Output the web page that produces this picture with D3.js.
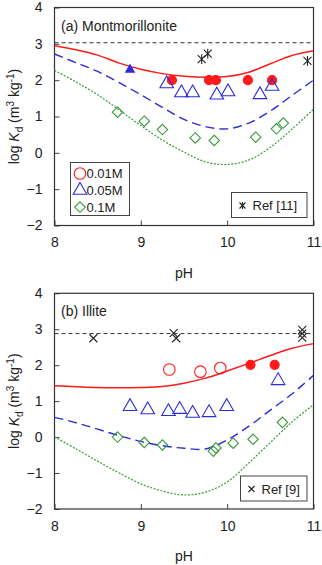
<!doctype html>
<html lang="en">
<head>
  <meta charset="utf-8">
  <title>log Kd vs pH</title>
  <style>
    body { margin: 0; background: #fff; }
    svg text { font-family: "Liberation Sans", Arial, sans-serif; fill: #222; }
  </style>
</head>
<body>
  <script src="https://cdn.jsdelivr.net/npm/d3@7"></script>
  <svg width="322" height="565"></svg>
  <script>
    // axis ticks
    var phTicks = [8, 9, 10, 11];
    var logTicks = [-2, -1, 0, 1, 2, 3, 4];

    // model curves, sampled every 0.25 pH
    var curvePH = [8, 8.25, 8.5, 8.75, 9, 9.25, 9.5, 9.75, 10, 10.25, 10.5, 10.75, 11];
    var montRed   = [2.95, 2.84, 2.69, 2.47, 2.30, 2.18, 2.11, 2.08, 2.10, 2.22, 2.45, 2.68, 2.81];
    var montBlue  = [2.72, 2.48, 2.24, 1.93, 1.60, 1.25, 0.92, 0.72, 0.66, 0.82, 1.15, 1.58, 2.00];
    var montGreen = [2.27, 1.95, 1.60, 1.18, 0.75, 0.35, 0.02, -0.25, -0.32, -0.20, 0.15, 0.65, 1.20];
    var illRed    = [1.43, 1.40, 1.38, 1.37, 1.38, 1.41, 1.50, 1.64, 1.84, 2.05, 2.27, 2.47, 2.60];
    var illBlue   = [0.55, 0.40, 0.22, 0.04, -0.12, -0.24, -0.31, -0.33, -0.08, 0.30, 0.75, 1.20, 1.72];
    var illGreen  = [0.01, -0.33, -0.67, -1.00, -1.30, -1.50, -1.61, -1.53, -1.25, -0.72, -0.15, 0.42, 0.90];

    // reference levels (black dashed)
    var montRefLevel = 3.03;
    var illRefLevel = 2.88;

    // measured points [pH, log Kd]
    var mont001Filled = [[9.36, 2.0], [9.79, 2.0], [9.87, 2.0], [10.24, 2.0], [10.52, 2.0]];
    var mont005Open = [[9.30, 1.90], [9.47, 1.65], [9.60, 1.65], [9.88, 1.59], [10.01, 1.68], [10.38, 1.60], [10.52, 1.83]];
    var mont005Filled = [[8.875, 2.29]];
    var mont01Open = [[8.73, 1.12], [9.04, 0.87], [9.25, 0.64], [9.63, 0.41], [9.85, 0.34], [10.33, 0.43], [10.57, 0.66], [10.65, 0.82]];
    var montRef11 = [[9.705, 2.58], [9.775, 2.73], [10.93, 2.53]];

    var ill001Open = [[9.33, 1.88], [9.69, 1.82], [9.92, 1.92]];
    var ill001Filled = [[10.27, 2.01], [10.55, 2.01]];
    var ill005Open = [[8.875, 0.85], [9.08, 0.76], [9.32, 0.71], [9.45, 0.77], [9.60, 0.66], [9.79, 0.68], [9.995, 0.85], [10.59, 1.57]];
    var ill01Open = [[8.73, 0.0], [9.04, -0.15], [9.25, -0.22], [9.84, -0.39], [9.87, -0.30], [10.07, -0.17], [10.30, -0.06], [10.64, 0.41]];
    var illRef9 = [[8.45, 2.75], [9.38, 2.89], [9.41, 2.75], [10.87, 2.98], [10.87, 2.88], [10.87, 2.77]];

    var RED = "#ff1a1a", BLUE = "#2b2bdc", GREEN = "#3a9a3a";

    var svg = d3.select("svg");
    var x = d3.scaleLinear().domain([8, 11]).range([54.5, 313.5]);

    function panel(top, bottom, title, curves, refLevel, marks, refPts, refSym, refLabel) {
      var y = d3.scaleLinear().domain([-2, 4]).range([bottom, top]);
      var g = svg.append("g");

      // axes with inward ticks
      var ax = g.append("g").attr("transform", "translate(0," + bottom + ")")
        .call(d3.axisBottom(x).tickValues(phTicks).tickFormat(d3.format("d"))
          .tickSizeInner(-5).tickSizeOuter(0).tickPadding(12));
      var ay = g.append("g").attr("transform", "translate(54.5,0)")
        .call(d3.axisLeft(y).tickValues(logTicks).tickFormat(d3.format("d"))
          .tickSizeInner(-5).tickSizeOuter(0).tickPadding(12));
      [ax, ay].forEach(a => {
        a.select(".domain").remove();
        a.selectAll("line").attr("stroke", "#444");
        a.selectAll("text").style("font-size", "14px").attr("fill", "#222");
      });

      g.append("rect").attr("x", x(8)).attr("y", top)
        .attr("width", x(11) - x(8)).attr("height", bottom - top)
        .attr("fill", "none").attr("stroke", "#333").attr("stroke-width", 1.2);

      // reference level
      g.append("line").attr("x1", x(8)).attr("x2", x(11))
        .attr("y1", y(refLevel)).attr("y2", y(refLevel))
        .attr("stroke", "#333").attr("stroke-width", 1).attr("stroke-dasharray", "4,3");

      // model curves
      var line = d3.line().x((d, i) => x(curvePH[i])).y(d => y(d)).curve(d3.curveCatmullRom);
      curves.forEach(c => {
        g.append("path").datum(c.values).attr("d", line)
          .attr("fill", "none").attr("stroke", c.color).attr("stroke-width", c.width)
          .attr("stroke-dasharray", c.dash);
      });

      // points
      marks.forEach(m => {
        g.selectAll(null).data(m.data).enter().append("path")
          .attr("transform", d => "translate(" + x(d[0]) + "," + y(d[1]) + ")")
          .attr("d", d3.symbol().type(m.type).size(m.size))
          .attr("fill", m.filled ? m.color : "none")
          .attr("stroke", m.color).attr("stroke-width", 1.1);
      });

      // reference points
      g.selectAll(null).data(refPts).enter().append("path")
        .attr("transform", d => "translate(" + x(d[0]) + "," + y(d[1]) + ")")
        .attr("d", refSym(4))
        .attr("fill", "none").attr("stroke", "#222").attr("stroke-width", 1.1);

      // title
      g.append("text").attr("x", 61).attr("y", top + 23).style("font-size", "14px").text(title);

      // y label
      var lab = g.append("text")
        .attr("transform", "translate(19," + ((top + bottom) / 2) + ") rotate(-90)")
        .attr("text-anchor", "middle").style("font-size", "14px");
      lab.append("tspan").text("log ");
      lab.append("tspan").style("font-style", "italic").text("K");
      lab.append("tspan").attr("dy", 4).style("font-size", "10px").text("d");
      lab.append("tspan").attr("dy", -4).text("  (m");
      lab.append("tspan").attr("dy", -5).style("font-size", "10px").text("3");
      lab.append("tspan").attr("dy", 5).text(" kg");
      lab.append("tspan").attr("dy", -5).style("font-size", "10px").text("-1");
      lab.append("tspan").attr("dy", 5).text(")");

      // x label
      g.append("text").attr("x", 184).attr("y", bottom + 52)
        .attr("text-anchor", "middle").style("font-size", "14px").text("pH");

      // reference legend
      var lx0 = refLabel.length > 7 ? 231.5 : 240.5;
      var lb = g.append("g");
      lb.append("rect").attr("x", lx0).attr("y", bottom - 33).attr("width", 307 - lx0).attr("height", 25)
        .attr("fill", "#fff").attr("stroke", "#444").attr("stroke-width", 1);
      lb.append("path").attr("transform", "translate(" + (lx0 + 11) + "," + (bottom - 20) + ")")
        .attr("d", refSym(3)).attr("stroke", "#222").attr("stroke-width", 1.1);
      lb.append("text").attr("x", lx0 + 21).attr("y", bottom - 15.5).style("font-size", "13px").text(refLabel);

      return y;
    }

    function starSym(r) {
      return "M" + (-r) + "," + (-r) + "L" + r + "," + r + "M" + (-r) + "," + r + "L" + r + "," + (-r) +
        "M0," + (-r * 1.2) + "L0," + (r * 1.2);
    }
    function crossSym(r) {
      return "M" + (-r) + "," + (-r) + "L" + r + "," + r + "M" + (-r) + "," + r + "L" + r + "," + (-r);
    }

    var TRI = 80, DIA = 70, CIRC_O = 105, CIRC_F = 65;

    // (a) Montmorillonite
    panel(7.5, 225.5, "(a) Montmorillonite",
      [{ values: montRed, color: RED, width: 1.5, dash: null },
       { values: montBlue, color: BLUE, width: 1.4, dash: "9,5" },
       { values: montGreen, color: GREEN, width: 1.2, dash: "2,1.5" }],
      montRefLevel,
      [{ data: mont001Filled, type: d3.symbolCircle, size: CIRC_F, filled: true, color: RED },
       { data: mont005Open, type: d3.symbolTriangle, size: TRI, filled: false, color: BLUE },
       { data: mont005Filled, type: d3.symbolTriangle, size: 32, filled: true, color: BLUE },
       { data: mont01Open, type: d3.symbolDiamond2, size: DIA, filled: false, color: GREEN }],
      montRef11, starSym, "Ref [11]");

    // concentration legend in panel (a)
    var leg = svg.append("g");
    leg.append("rect").attr("x", 70.5).attr("y", 162.5).attr("width", 59).attr("height", 53)
      .attr("fill", "#fff").attr("stroke", "#444").attr("stroke-width", 1);
    var legItems = [
      { label: "0.01M", type: d3.symbolCircle, size: CIRC_O, color: RED },
      { label: "0.05M", type: d3.symbolTriangle, size: TRI, color: BLUE },
      { label: "0.1M", type: d3.symbolDiamond2, size: DIA, color: GREEN }
    ];
    legItems.forEach((it, i) => {
      var cy = 173.5 + i * 16.8;
      leg.append("path").attr("transform", "translate(80," + cy + ")")
        .attr("d", d3.symbol().type(it.type).size(it.size))
        .attr("fill", "none").attr("stroke", it.color).attr("stroke-width", 1.1);
      leg.append("text").attr("x", 86.5).attr("y", cy + 4.5).style("font-size", "13px").text(it.label);
    });

    // (b) Illite
    panel(293.3, 509, "(b) Illite",
      [{ values: illRed, color: RED, width: 1.5, dash: null },
       { values: illBlue, color: BLUE, width: 1.4, dash: "9,5" },
       { values: illGreen, color: GREEN, width: 1.2, dash: "2,1.5" }],
      illRefLevel,
      [{ data: ill001Open, type: d3.symbolCircle, size: CIRC_O, filled: false, color: RED },
       { data: ill001Filled, type: d3.symbolCircle, size: CIRC_F, filled: true, color: RED },
       { data: ill005Open, type: d3.symbolTriangle, size: TRI, filled: false, color: BLUE },
       { data: ill01Open, type: d3.symbolDiamond2, size: DIA, filled: false, color: GREEN }],
      illRef9, crossSym, "Ref [9]");
  </script>
</body>
</html>
